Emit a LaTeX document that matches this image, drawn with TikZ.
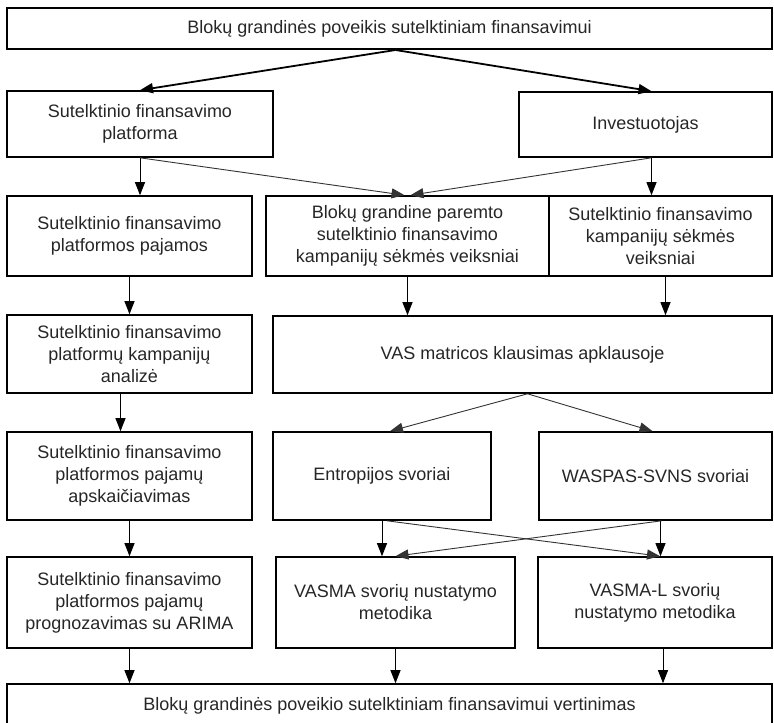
\documentclass[tikz,border=0pt]{standalone}
\usepackage{fontspec}
\setmainfont{Liberation Sans}
\usetikzlibrary{arrows.meta}
\tikzset{
box/.style={draw, line width=1.6pt, inner sep=0pt, align=center,
font=\fontsize{18}{22}\selectfont, text=black!85},
link/.style={line width=0.9pt, -{Triangle[length=13pt, width=10pt]}},
}

\begin{document}
\begin{tikzpicture}[x=1pt, y=-1pt]
\useasboundingbox (0,0) rectangle (774,723);
\clip (0,0) rectangle (774,723);

\node[box, line width=2pt, minimum width=765pt, minimum height=41pt] (A) at (389.5,28.5) {Blokų grandinės poveikis sutelktiniam finansavimui};
\node[box, minimum width=266pt, minimum height=66pt] (B) at (140,124) {Sutelktinio finansavimo\\platforma};
\node[box, minimum width=253pt, minimum height=65pt] (C) at (645.5,124.5) {Investuotojas};

\node[box, minimum width=245pt, minimum height=80pt] (D) at (129.5,236) {Sutelktinio finansavimo\\platformos pajamos};
\node[box, minimum width=283pt, minimum height=80pt] (E) at (407.5,236) {Blokų grandine paremto\\sutelktinio finansavimo\\kampanijų sėkmės veiksniai};
\node[box, minimum width=223pt, minimum height=80pt] (F) at (660.5,236) {Sutelktinio finansavimo\\kampanijų sėkmės\\veiksniai};

\node[box, minimum width=245pt, minimum height=78pt] (G) at (129.5,354) {Sutelktinio finansavimo\\platformų kampanijų\\analizė};
\node[box, minimum width=499pt, minimum height=77pt] (H) at (522.5,354.5) {VAS matricos klausimas apklausoje};

\node[box, minimum width=245pt, minimum height=88pt] (I) at (129.5,476) {Sutelktinio finansavimo\\platformos pajamų\\apskaičiavimas};
\node[box, minimum width=218pt, minimum height=88pt] (J) at (382,476) {Entropijos svoriai};
\node[box, minimum width=233pt, minimum height=88pt] (K) at (655.5,476) {WASPAS-SVNS svoriai};

\node[box, minimum width=245pt, minimum height=91pt] (L) at (129.5,602.5) {Sutelktinio finansavimo\\platformos pajamų\\prognozavimas su ARIMA};
\node[box, minimum width=239pt, minimum height=91pt] (M) at (395.5,602.5) {VASMA svorių nustatymo\\metodika};
\node[box, minimum width=234pt, minimum height=91pt] (N) at (655,602.5) {VASMA-L svorių\\nustatymo metodika};

\node[box, minimum width=765pt, minimum height=44pt] (O) at (389.5,706) {Blokų grandinės poveikio sutelktiniam finansavimui vertinimas};

\draw[link, line width=1.8pt] ([xshift=6pt]A.south) -- (B.north);
\draw[link, line width=1.8pt] ([xshift=6pt]A.south) -- ([xshift=6pt]C.north);

\draw[link] (B.south) -- (B.south |- D.north);
\draw[link, black!80] (B.south) -- ([xshift=-3pt]E.north);
\draw[link, black!80] ([xshift=6pt]C.south) -- ([xshift=3pt]E.north);
\draw[link] ([xshift=6pt]C.south) -- ([xshift=6pt]C.south |- F.north);

\draw[link] (D.south) -- (G.north);
\draw[link] (E.south) -- (E.south |- H.north);
\draw[link] ([xshift=5pt]F.south) -- ([xshift=5pt]F.south |- H.north);

\draw[link] ([xshift=-9pt]G.south) -- ([xshift=-9pt]G.south |- I.north);
\draw[link, black!80] ([xshift=5pt]H.south) -- ([xshift=8pt]J.north);
\draw[link, black!80] ([xshift=5pt]H.south) -- ([xshift=-3pt]K.north);

\draw[link] (I.south) -- (L.north);
\draw[link] (J.south) -- (J.south |- M.north);
\draw[link, black!80] ([xshift=5pt]J.south) -- ([xshift=5pt]N.north);
\draw[link] ([xshift=5pt]K.south) -- ([xshift=5pt]K.south |- N.north);
\draw[link, black!80] ([xshift=6pt]K.south) -- (M.north);

\draw[link] (L.south) -- (L.south |- O.north);
\draw[link] (M.south) -- (M.south |- O.north);
\draw[link] ([xshift=8pt]N.south) -- ([xshift=8pt]N.south |- O.north);
\end{tikzpicture}
\end{document}
